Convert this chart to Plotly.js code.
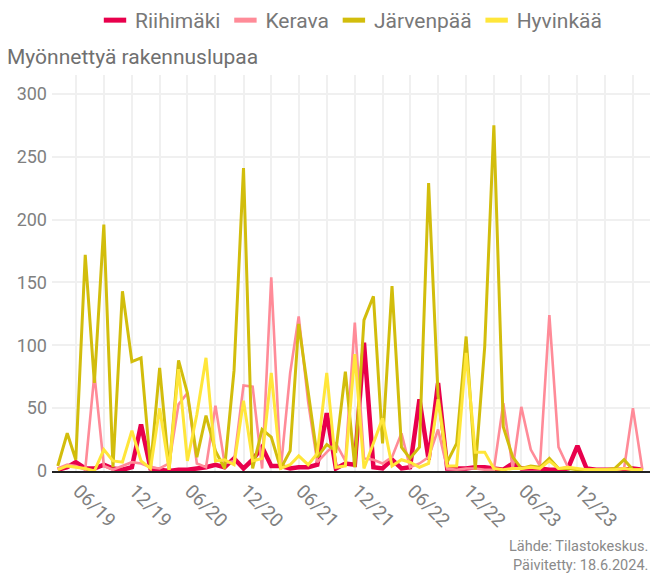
<!DOCTYPE html>
<html>
<head>
<meta charset="utf-8">
<script src="https://cdn.plot.ly/plotly-3.0.1.min.js"></script>
<style>html,body{margin:0;padding:0;background:#fff;}#chart{width:650px;height:576px;}</style>
</head>
<body>
<div id="chart"></div>
<script>
const months = [
 '2019-01-01','2019-02-01','2019-03-01','2019-04-01','2019-05-01','2019-06-01','2019-07-01','2019-08-01','2019-09-01','2019-10-01','2019-11-01','2019-12-01',
 '2020-01-01','2020-02-01','2020-03-01','2020-04-01','2020-05-01','2020-06-01','2020-07-01','2020-08-01','2020-09-01','2020-10-01','2020-11-01','2020-12-01',
 '2021-01-01','2021-02-01','2021-03-01','2021-04-01','2021-05-01','2021-06-01','2021-07-01','2021-08-01','2021-09-01','2021-10-01','2021-11-01','2021-12-01',
 '2022-01-01','2022-02-01','2022-03-01','2022-04-01','2022-05-01','2022-06-01','2022-07-01','2022-08-01','2022-09-01','2022-10-01','2022-11-01','2022-12-01',
 '2023-01-01','2023-02-01','2023-03-01','2023-04-01','2023-05-01','2023-06-01','2023-07-01','2023-08-01','2023-09-01','2023-10-01','2023-11-01','2023-12-01',
 '2024-01-01','2024-02-01','2024-03-01','2024-04-01'];

const riihimaki = [1,3,7,2,2,5,2,1,3,37,2,1, 0,1,1,2,3,5,3,10,2,9,19,4, 4,2,3,3,5,46,2,6,5,102,3,2, 9,2,3,57,9,70,2,2,2,3,3,2, 1,6,2,2,2,1,1,2,20,2,1,1, 1,1,2,1];
const kerava    = [2,5,4,1,77,4,1,4,7,6,3,2, 6,53,62,6,3,52,6,8,68,67,2,154, 1,78,123,55,7,15,22,8,118,10,9,6, 11,30,3,6,11,33,2,1,2,2,1,1, 54,2,51,17,4,124,19,3,1,1,1,1, 1,2,50,1];
const jarvenpaa = [4,30,9,172,70,196,3,143,87,90,3,82, 1,88,62,11,44,16,2,80,241,2,33,27, 2,16,117,64,11,21,16,79,3,120,139,22, 147,19,10,19,229,60,7,22,107,1,99,275, 35,11,2,4,3,10,2,2,1,1,1,1, 2,9,1,1];
const hyvinkaa  = [1,4,3,2,0,17,8,7,32,8,2,50, 1,81,8,45,90,8,9,5,56,8,10,78, 2,5,12,5,14,78,3,4,93,2,22,42, 4,9,7,3,6,57,4,4,94,15,15,2, 1,2,2,3,2,8,2,3,2,1,1,1, 1,2,1,1];

const seriesNames = ['Riihimäki','Kerava','Järvenpää','Hyvinkää'];
const seriesData = [riihimaki, kerava, jarvenpaa, hyvinkaa];
const seriesColors = ['#e8004c','#ff8b98','#d2bd0c','#ffe63a'];
const seriesWidths = [4.5, 2.6, 3, 3];

const tickVals = ['2019-06-01','2019-12-01','2020-06-01','2020-12-01','2021-06-01','2021-12-01','2022-06-01','2022-12-01','2023-06-01','2023-12-01'];
const tickText = ['06/19','12/19','06/20','12/20','06/21','12/21','06/22','12/22','06/23','12/23'];
const yTicks = [0,50,100,150,200,250,300];

const traces = [];
seriesNames.forEach((name, k) => {
  traces.push({
    type: 'scatter', mode: 'lines', name: name, x: months, y: seriesData[k],
    line: {color: seriesColors[k], width: seriesWidths[k]},
    showlegend: false, hoverinfo: 'skip'
  });
});
seriesNames.forEach((name, k) => {
  traces.push({
    type: 'scatter', mode: 'markers', name: name, x: [null], y: [null],
    marker: {symbol: 'line-ew', size: 16, color: seriesColors[k], line: {color: seriesColors[k], width: 5}},
    showlegend: true
  });
});

const gray = '#808080';
const layout = {
  width: 650, height: 576,
  margin: {l: 52, r: 0, t: 75, b: 105},
  paper_bgcolor: '#fff', plot_bgcolor: '#fff',
  font: {family: 'Roboto, sans-serif', color: gray},
  title: {
    text: 'Myönnettyä rakennuslupaa',
    font: {family: 'Roboto, sans-serif', size: 21, color: '#707070'},
    xref: 'container', x: 7/650, xanchor: 'left',
    yref: 'container', y: 1 - 57/576, yanchor: 'middle'
  },
  showlegend: true,
  legend: {
    orientation: 'h', xref: 'paper', x: 0.5, xanchor: 'center',
    yref: 'container', y: 1, yanchor: 'top',
    font: {family: 'Roboto, sans-serif', size: 21, color: '#787878'},
    itemclick: false
  },
  xaxis: {
    type: 'date',
    range: ['2018-12-13', '2024-04-26'],
    tickvals: tickVals, ticktext: tickText,
    tickangle: 45, ticklabelshift: -25,
    tickfont: {family: 'Roboto, sans-serif', size: 19, color: gray},
    showgrid: true, gridcolor: '#f0f0f0', gridwidth: 2,
    minor: {dtick: 'M3', tick0: '2019-03-01', showgrid: true, gridcolor: '#f0f0f0', gridwidth: 2},
    showline: true, linecolor: '#222', linewidth: 1.5,
    zeroline: false, ticks: '', fixedrange: true
  },
  yaxis: {
    range: [0, 315],
    tickvals: yTicks,
    tickfont: {family: 'Roboto, sans-serif', size: 18, color: gray},
    showgrid: true, gridcolor: '#f0f0f0', gridwidth: 2,
    zeroline: false, showline: false, ticks: '', ticklabelstandoff: 4, fixedrange: true
  },
  annotations: [{
    text: 'Lähde: Tilastokeskus.<br>Päivitetty: 18.6.2024.',
    xref: 'paper', yref: 'paper', x: 1, y: -0.215, xanchor: 'right', yanchor: 'middle',
    align: 'right', showarrow: false,
    font: {family: 'Roboto, sans-serif', size: 14.5, color: '#8a8a8a'}
  }]
};

Plotly.newPlot('chart', traces, layout, {displayModeBar: false, staticPlot: true});
</script>
</body>
</html>
